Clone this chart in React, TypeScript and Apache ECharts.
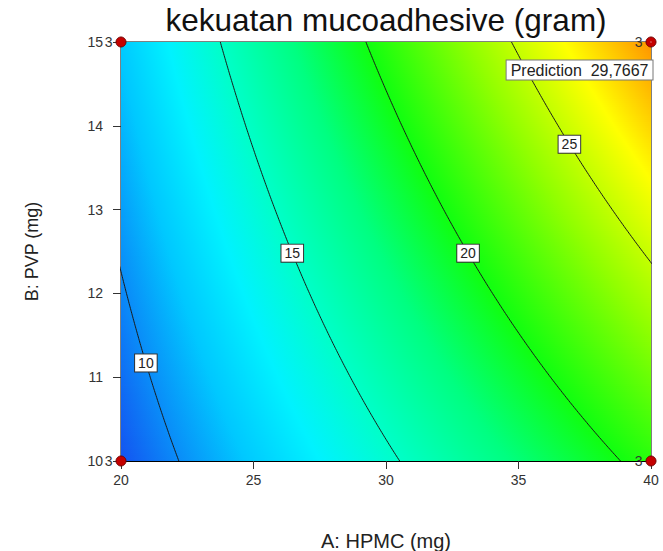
import React, { useEffect, useRef } from 'react';
import * as echarts from 'echarts';

// ---- data ----
const titleText = 'kekuatan mucoadhesive (gram)';
const xAxisName = 'A: HPMC (mg)';
const yAxisName = 'B: PVP (mg)';
const xRange = [20, 40];
const yRange = [10, 15];
const xTickInterval = 5;
const yTickInterval = 1;
// fitted response surface in coded units: [intercept, A, B, AB]
const modelCoefficients = [17.69, 7.55, 3.0, 1.55];
const contourLevels = [10, 15, 20, 25];
const contourLabelB = [11.17, 12.48, 12.48, 13.78];
const designPointsA = [20, 20, 40, 40];
const designPointsB = [10, 15, 10, 15];
const designPointReplicates = ['3', '3', '3', '3'];
const predictionPoint = [40, 15];
const predictionLabel = 'Prediction  29,7667';
const colorStopValues = [8.6, 10, 11.5, 13.2, 15, 17.5, 20, 23.5, 26.8, 30];
const colorStopColors = ['#1450f0', '#0a8cf8', '#00c8ff', '#00f2ff', '#00ffc8', '#00ff80', '#10ff10', '#90ff00', '#ffff00', '#ff8c00'];

const FONT = '"Liberation Sans", Arial, sans-serif';

const codeA = (a: number) => (a - (xRange[0] + xRange[1]) / 2) / ((xRange[1] - xRange[0]) / 2);
const codeB = (b: number) => (b - (yRange[0] + yRange[1]) / 2) / ((yRange[1] - yRange[0]) / 2);
const uncodeA = (x: number) => (xRange[0] + xRange[1]) / 2 + x * (xRange[1] - xRange[0]) / 2;

function response(a: number, b: number) {
  const x1 = codeA(a), x2 = codeB(b);
  const c = modelCoefficients;
  return c[0] + c[1] * x1 + c[2] * x2 + c[3] * x1 * x2;
}
function solveA(level: number, b: number) {
  const x2 = codeB(b);
  const c = modelCoefficients;
  return uncodeA((level - c[0] - c[2] * x2) / (c[1] + c[3] * x2));
}
function hexToRgb(h: string) {
  return [parseInt(h.slice(1, 3), 16), parseInt(h.slice(3, 5), 16), parseInt(h.slice(5, 7), 16)];
}
function colorFor(v: number) {
  const vs = colorStopValues, cs = colorStopColors;
  if (v <= vs[0]) return cs[0];
  if (v >= vs[vs.length - 1]) return cs[cs.length - 1];
  for (let i = 0; i < vs.length - 1; i++) {
    if (v >= vs[i] && v <= vs[i + 1]) {
      const t = (v - vs[i]) / (vs[i + 1] - vs[i]);
      const a = hexToRgb(cs[i]), b = hexToRgb(cs[i + 1]);
      const r = a.map((x, k) => Math.round(x + (b[k] - x) * t));
      return `rgb(${r[0]},${r[1]},${r[2]})`;
    }
  }
  return cs[0];
}

export default function App() {
  const ref = useRef<HTMLDivElement>(null);
  useEffect(() => {
    if (!ref.current) return;
    const chart = echarts.init(ref.current, undefined, { renderer: 'svg' });

    const nRows = 200;
    const dB = (yRange[1] - yRange[0]) / nRows;
    const rows: number[][] = [];
    for (let i = 0; i < nRows; i++) rows.push([xRange[0], yRange[0] + i * dB, yRange[0] + (i + 1) * dB]);

    const contourSeries = contourLevels.map((lv) => {
      const pts: number[][] = [];
      for (let b = yRange[0]; b <= yRange[1] + 1e-9; b += 0.02) pts.push([solveA(lv, b), b]);
      return {
        type: 'line', data: pts, showSymbol: false, silent: true, clip: true, z: 3,
        lineStyle: { color: '#1a1a1a', width: 1 }, animation: false,
      };
    });

    const option: any = {
      animation: false,
      textStyle: { fontFamily: FONT },
      grid: { left: 121, top: 42, right: 12, bottom: 90, outerBoundsMode: 'none', containLabel: false, show: true, borderColor: '#000', borderWidth: 1, backgroundColor: 'transparent' },
      xAxis: {
        type: 'value', min: xRange[0], max: xRange[1], interval: xTickInterval,
        name: xAxisName, nameLocation: 'middle', nameGap: 70,
        nameTextStyle: { fontSize: 20, color: '#222', fontFamily: FONT },
        axisLine: { show: true, lineStyle: { color: '#000' } },
        axisTick: { show: true, length: 8, lineStyle: { color: '#333' } },
        axisLabel: { fontSize: 14, color: '#333', margin: 12, fontFamily: FONT },
        splitLine: { show: false },
      },
      yAxis: {
        type: 'value', min: yRange[0], max: yRange[1], interval: yTickInterval,
        name: yAxisName, nameLocation: 'middle', nameGap: 80,
        nameTextStyle: { fontSize: 18, color: '#222', fontFamily: FONT },
        axisLine: { show: true, lineStyle: { color: '#000' } },
        axisTick: { show: true, length: 8, lineStyle: { color: '#333' } },
        axisLabel: { fontSize: 14, color: '#333', margin: 18, fontFamily: FONT },
        splitLine: { show: false },
      },
      graphic: [
        { type: 'text', x: 386, y: 20, z: 10, style: { text: titleText, fontSize: 31.5, fontFamily: FONT, fill: '#111', align: 'center', verticalAlign: 'middle' } },
      ],
      series: [
        {
          type: 'custom', data: rows, encode: { x: 0, y: 1 }, silent: true, z: 1, clip: true,
          renderItem: (params: any, api: any) => {
            const b0 = api.value(1), b1 = api.value(2);
            const bm = (b0 + b1) / 2;
            const pTL = api.coord([xRange[0], b1]);
            const pBR = api.coord([xRange[1], b0]);
            const fL = response(xRange[0], bm), fR = response(xRange[1], bm);
            const stops: any[] = [{ offset: 0, color: colorFor(fL) }];
            colorStopValues.forEach((v) => {
              if (v > fL && v < fR) stops.push({ offset: (v - fL) / (fR - fL), color: colorFor(v) });
            });
            stops.push({ offset: 1, color: colorFor(fR) });
            return {
              type: 'rect',
              shape: { x: pTL[0], y: pTL[1] - 0.4, width: pBR[0] - pTL[0], height: pBR[1] - pTL[1] + 0.8 },
              style: { fill: new echarts.graphic.LinearGradient(0, 0, 1, 0, stops) },
            };
          },
        },
        ...contourSeries,
        {
          type: 'scatter', z: 5, silent: true, symbolSize: 1,
          itemStyle: { color: '#ffffff', opacity: 1 },
          data: contourLevels.map((lv, i) => [solveA(lv, contourLabelB[i]), contourLabelB[i], lv]),
          label: {
            show: true, position: 'inside', formatter: (p: any) => String(p.value[2]),
            backgroundColor: '#ffffff', borderColor: '#333', borderWidth: 1, padding: [2, 3, 1, 3],
            fontSize: 14, color: '#222', fontFamily: FONT, opacity: 1,
          },
        },
        {
          type: 'scatter', z: 6, silent: true, clip: false, symbolSize: 10,
          itemStyle: { color: '#c40000', borderColor: '#700000', borderWidth: 1, opacity: 1 },
          data: designPointsA.map((a, i) => [a, designPointsB[i], designPointReplicates[i]]),
          label: { show: true, position: 'left', distance: 3, formatter: (p: any) => p.value[2], fontSize: 14, color: '#333', fontFamily: FONT },
        },
        {
          type: 'scatter', z: 7, silent: true, clip: false, symbolSize: 1,
          itemStyle: { color: '#ffffff', opacity: 1 },
          data: [[predictionPoint[0], predictionPoint[1]]],
          label: {
            show: true, position: [2, 19], align: 'right', verticalAlign: 'top',
            formatter: predictionLabel, backgroundColor: '#ffffff', borderColor: '#777', borderWidth: 1,
            padding: [2, 4, 1, 4], fontSize: 16, color: '#222', fontFamily: FONT, opacity: 1,
          },
        },
      ],
    };
    chart.setOption(option);
    return () => chart.dispose();
  }, []);
  return <div ref={ref} style={{ position: 'absolute', left: 0, top: 0, width: 663, height: 551 }} />;
}
